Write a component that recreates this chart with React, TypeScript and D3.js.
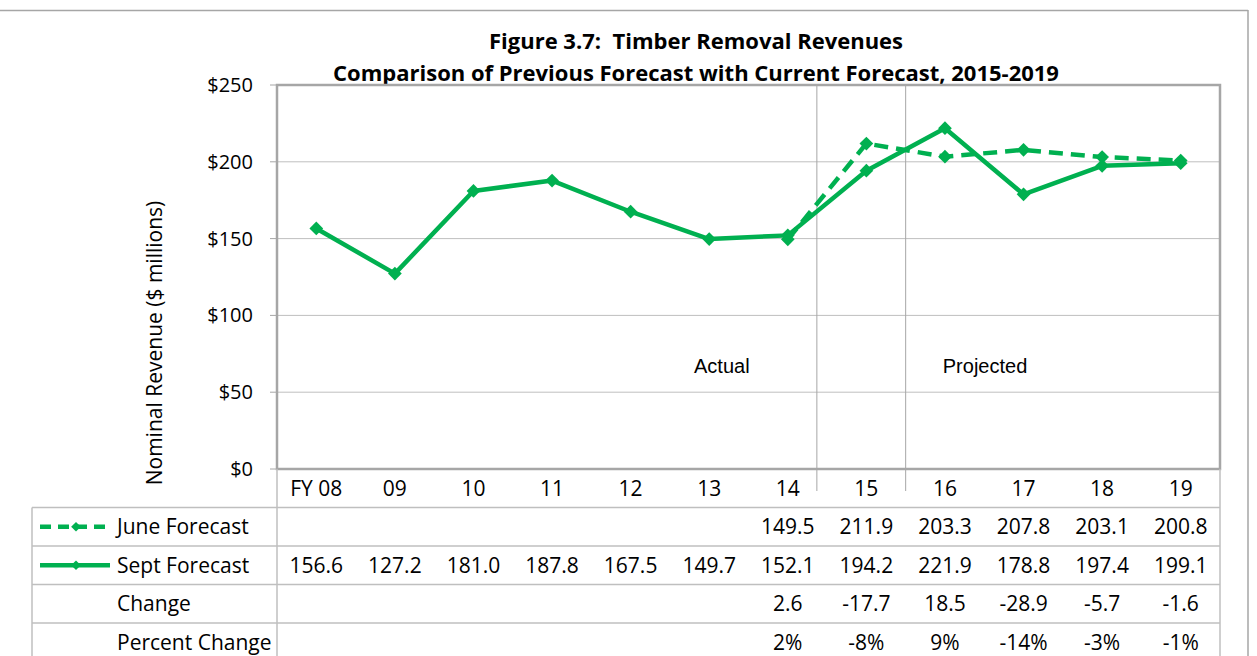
import * as React from 'react';
import * as d3 from 'd3';

const categories = ['FY 08', '09', '10', '11', '12', '13', '14', '15', '16', '17', '18', '19'];
const juneForecast: (number | null)[] = [null, null, null, null, null, null, 149.5, 211.9, 203.3, 207.8, 203.1, 200.8];
const septForecast = [156.6, 127.2, 181.0, 187.8, 167.5, 149.7, 152.1, 194.2, 221.9, 178.8, 197.4, 199.1];
const changeRow = ['', '', '', '', '', '', '2.6', '-17.7', '18.5', '-28.9', '-5.7', '-1.6'];
const pctRow = ['', '', '', '', '', '', '2%', '-8%', '9%', '-14%', '-3%', '-1%'];
const yTicks = [0, 50, 100, 150, 200, 250];
// divider positions, in category units from the left of the plot
const dividers = [6.87, 8];
const notes = [{ text: 'Actual', at: 5.66 }, { text: 'Projected', at: 9.01 }];

const GREEN = '#00B050';
const GRID = '#BFBFBF';
const FRAME = '#A6A6A6';
const FONT = '"Open Sans", Lato, sans-serif';

const fmt = (v: number | null) => (v == null ? '' : v.toFixed(1));

export default function App() {
  const left = 277, right = 1220, top = 85, bottom = 469;
  const rowH = 38.5;
  const tableLeft = 32;

  const x = d3.scaleBand<string>().domain(categories).range([left, right]).padding(0);
  const y = d3.scaleLinear().domain([0, 250]).range([bottom, top]);
  const cx = (i: number) => (x(categories[i]) as number) + x.bandwidth() / 2;
  const unitX = (u: number) => left + x.step() * u;

  const line = d3.line<number | null>()
    .defined((d) => d != null)
    .x((_, i) => cx(i))
    .y((d) => y(d as number));

  const diamond = d3.symbol().type(d3.symbolDiamond2).size(120)() as string;
  const smallDiamond = d3.symbol().type(d3.symbolDiamond2).size(60)() as string;

  const rowTop = (r: number) => bottom + rowH * (r + 1);
  const rowMid = (r: number) => rowTop(r) + rowH / 2;

  const rows = [
    { label: 'June Forecast', values: juneForecast.map(fmt), dash: true },
    { label: 'Sept Forecast', values: septForecast.map(fmt), dash: false, solid: true },
    { label: 'Change', values: changeRow },
    { label: 'Percent Change', values: pctRow },
  ];

  return (
    <div style={{ position: 'absolute', left: 0, top: 0 }}>
      <svg width={1257} height={656} style={{ display: 'block', background: '#fff' }} fontFamily={FONT}>
        {/* outer frame */}
        <line x1={0} x2={1248} y1={10.5} y2={10.5} stroke={FRAME} strokeWidth={1.5} />
        <line x1={1248} x2={1248} y1={10} y2={656} stroke={FRAME} strokeWidth={1.5} />

        {/* title */}
        <text x={696} y={49} textAnchor="middle" fontSize={22} fontWeight="bold">{'Figure 3.7:\u00A0 Timber Removal Revenues'}</text>
        <text x={696} y={81} textAnchor="middle" fontSize={22} fontWeight="bold">Comparison of Previous Forecast with Current Forecast, 2015-2019</text>

        {/* grid */}
        {yTicks.map((t) => (
          <g key={t}>
            {t > 0 && t < 250 && <line x1={left} x2={right} y1={y(t)} y2={y(t)} stroke={GRID} strokeWidth={1} />}
            <line x1={left - 7} x2={left} y1={y(t)} y2={y(t)} stroke={FRAME} strokeWidth={1} />
            <text x={253} y={y(t)} dy="0.35em" textAnchor="end" fontSize={20}>{'$' + t}</text>
          </g>
        ))}

        {/* dividers */}
        {dividers.map((d) => (
          <line key={d} x1={unitX(d)} x2={unitX(d)} y1={top} y2={bottom + 22} stroke={FRAME} strokeWidth={1} />
        ))}

        {notes.map((n) => (
          <text key={n.text} x={unitX(n.at)} y={y(67)} dy="0.35em" textAnchor="middle" fontSize={20}
            fontFamily='"Liberation Sans", Arial, sans-serif'>{n.text}</text>
        ))}

        {/* plot border */}
        <rect x={left} y={top} width={right - left} height={bottom - top} fill="none" stroke={FRAME} strokeWidth={2.5} />

        {/* y title */}
        <text transform={`translate(162, 343) rotate(-90)`} textAnchor="middle" fontSize={21}>
          Nominal Revenue ($ millions)
        </text>

        {/* lines */}
        <path d={line(septForecast) as string} fill="none" stroke={GREEN} strokeWidth={4.5} strokeLinejoin="round" />
        <path d={line(juneForecast) as string} fill="none" stroke={GREEN} strokeWidth={4.5} strokeDasharray="14 8" />
        {septForecast.map((v, i) => (
          <path key={'s' + i} d={diamond} transform={`translate(${cx(i)},${y(v)})`} fill={GREEN} />
        ))}
        {juneForecast.map((v, i) => v == null ? null : (
          <path key={'j' + i} d={diamond} transform={`translate(${cx(i)},${y(v)})`} fill={GREEN} />
        ))}

        {/* category labels */}
        {categories.map((c, i) => (
          <text key={c} x={cx(i)} y={bottom + 20} dy="0.35em" textAnchor="middle" fontSize={21}>{c}</text>
        ))}

        {/* table */}
        <line x1={left} x2={left} y1={bottom} y2={656} stroke={GRID} strokeWidth={1.5} />
        <line x1={right} x2={right} y1={bottom} y2={656} stroke={GRID} strokeWidth={1.5} />
        <line x1={tableLeft} x2={tableLeft} y1={rowTop(0)} y2={656} stroke={GRID} strokeWidth={1.5} />
        {rows.map((r, ri) => (
          <g key={r.label}>
            <line x1={tableLeft} x2={right} y1={rowTop(ri)} y2={rowTop(ri)} stroke={GRID} strokeWidth={1.5} />
            {(r.dash || r.solid) && (
              <g>
                <line x1={40} x2={110} y1={rowMid(ri)} y2={rowMid(ri)} stroke={GREEN} strokeWidth={4.5}
                  strokeDasharray={r.dash ? '11 7' : undefined} />
                <path d={smallDiamond} transform={`translate(76,${rowMid(ri)})`} fill={GREEN} />
              </g>
            )}
            <text x={117} y={rowMid(ri)} dy="0.35em" fontSize={21}>{r.label}</text>
            {r.values.map((v, i) => (
              <text key={i} x={cx(i)} y={rowMid(ri)} dy="0.35em" textAnchor="middle" fontSize={21}>{v}</text>
            ))}
          </g>
        ))}
      </svg>
    </div>
  );
}
